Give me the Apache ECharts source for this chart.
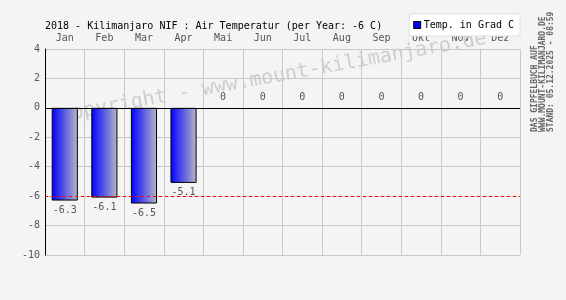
<!DOCTYPE html>
<html>
<head>
<meta charset="utf-8">
<script src="https://cdn.jsdelivr.net/npm/echarts@6/dist/echarts.min.js"></script>
<style>
html,body{margin:0;padding:0;background:#f4f4f4;}
#c{width:566px;height:300px;}
</style>
</head>
<body>
<div id="c"></div>
<script>
const months = ['Jan','Feb','Mar','Apr','Mai','Jun','Jul','Aug','Sep','Okt','Nov','Dez'];
const temps = [-6.3, -6.1, -6.5, -5.1, 0, 0, 0, 0, 0, 0, 0, 0];
const yearMean = -6;
const titleText = '2018 - Kilimanjaro NIF : Air Temperatur (per Year: -6 C)';
const seriesName = 'Temp. in Grad C';
const sideLines = ['DAS GIPFELBUCH AUF', 'WWW.MOUNT-KILIMANJARO.DE', 'STAND: 05.12.2025 - 08:59'];
const watermark = 'copyright - www.mount-kilimanjaro.de';

const mono = "'DejaVu Sans Mono', 'Liberation Mono', monospace";
const chart = echarts.init(document.getElementById('c'));

const sideGraphics = sideLines.map((t, i) => ({
  type: 'text', x: 535 + i * 8, y: 132, rotation: Math.PI / 2, z: 10,
  style: { text: t, font: "bold 8px " + mono, fill: '#666', textAlign: 'left', textVerticalAlign: 'middle' }
}));

chart.setOption({
  backgroundColor: '#f4f4f4',
  animation: false,
  title: {
    text: titleText, left: 40, top: 16,
    textStyle: { fontFamily: mono, fontSize: 10, fontWeight: 'normal', color: '#000' }
  },
  legend: {
    data: [seriesName], right: 46, top: 14,
    backgroundColor: '#fff', borderColor: '#ddd', borderWidth: 1,
    padding: [6, 6, 6, 4], itemGap: 4,
    icon: 'rect', itemWidth: 7, itemHeight: 7,
    itemStyle: { color: '#0000ff', borderColor: '#000', borderWidth: 1 },
    textStyle: { fontFamily: mono, fontSize: 10, color: '#000', padding: [0, 0, 0, -2] }
  },
  grid: { left: 45, right: 46, top: 49, bottom: 45 },
  xAxis: {
    type: 'category', data: months, position: 'top',
    axisLine: { show: false }, axisTick: { show: false },
    axisLabel: { fontFamily: mono, fontSize: 10, color: '#555', margin: 6 },
    splitLine: { show: true, lineStyle: { color: '#c8c8c8', width: 1 } }
  },
  yAxis: {
    type: 'value', min: -10, max: 4, interval: 2,
    axisLine: { show: true, onZero: false, lineStyle: { color: '#000', width: 1 } },
    axisTick: { show: false },
    axisLabel: { fontFamily: mono, fontSize: 10, color: '#555', margin: 5 },
    splitLine: { show: true, lineStyle: { color: '#c8c8c8', width: 1 } }
  },
  graphic: [
    {
      type: 'text', x: 60, y: 116, rotation: 0.18, z: 1, silent: true,
      style: { text: watermark, font: "20px " + mono, fill: '#cdcdcd', textAlign: 'left', textVerticalAlign: 'middle' }
    }
  ].concat(sideGraphics),
  series: [{
    name: seriesName, type: 'bar', barWidth: '66%', z: 3,
    itemStyle: {
      color: new echarts.graphic.LinearGradient(0, 0, 1, 0, [
        { offset: 0, color: '#0000ff' }, { offset: 1, color: '#b8b8c8' }
      ]),
      borderColor: '#000', borderWidth: 1
    },
    data: temps.map(v => ({
      value: v,
      itemStyle: v === 0 ? { borderWidth: 0 } : undefined,
      label: { show: true, position: v < 0 ? 'bottom' : 'top', distance: 5 }
    })),
    label: { fontFamily: mono, fontSize: 10, color: '#555' },
    markLine: {
      silent: true, symbol: 'none', label: { show: false },
      data: [
        { yAxis: 0, lineStyle: { color: '#000', type: 'solid', width: 1 } },
        { yAxis: yearMean, lineStyle: { color: '#ff0000', type: [3, 3], width: 1 } }
      ]
    }
  }]
});
</script>
</body>
</html>
